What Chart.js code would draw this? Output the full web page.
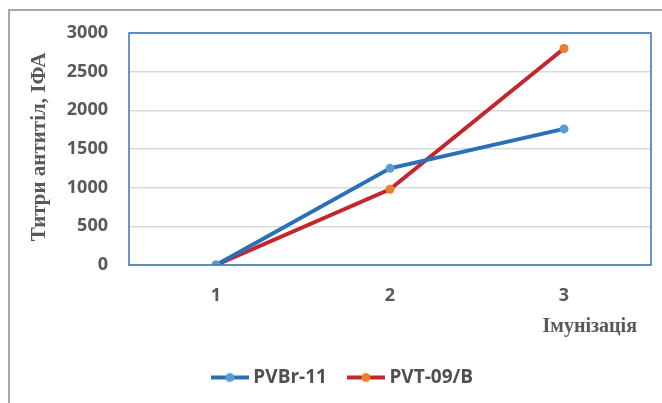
<!DOCTYPE html>
<html>
<head>
<meta charset="utf-8">
<script src="https://cdn.jsdelivr.net/npm/chart.js@4.4.0/dist/chart.umd.min.js"></script>
<style>
  html, body { margin: 0; padding: 0; background: #fff; }
  #wrap { position: relative; width: 662px; height: 403px; }
  #frame { position: absolute; left: 8px; top: 9px; width: 700px; height: 500px;
           border-top: 2px solid #a8a8a8; border-left: 2px solid #a8a8a8; }
  canvas { position: absolute; left: 0; top: 0; }
</style>
</head>
<body>
<div id="wrap">
  <div id="frame"></div>
  <canvas id="chart" width="662" height="403"></canvas>
</div>
<script>
  const categories = ['1', '2', '3'];
  const pvbrValues = [0, 1250, 1760];
  const pvtValues = [0, 980, 2800];
  const seriesNames = ['PVBr-11', 'PVT-09/B'];
  const yTicks = [0, 500, 1000, 1500, 2000, 2500, 3000];
  const yTitle = 'Титри антитіл, ІФА';
  const xTitle = 'Імунізація';

  const blueLine = '#2a70b8', blueDot = '#5b9bd5';
  const redLine = '#c1272d', redDot = '#ed7d31';
  const tickFont = { family: '"Open Sans"', size: 18, weight: 'bold' };

  // little line-with-dot icon for the legend
  function legendIcon(lineColor, dotColor) {
    const c = document.createElement('canvas');
    c.width = 38; c.height = 12;
    const g = c.getContext('2d');
    g.strokeStyle = lineColor; g.lineWidth = 4; g.lineCap = 'butt';
    g.beginPath(); g.moveTo(0, 6); g.lineTo(38, 6); g.stroke();
    g.fillStyle = dotColor;
    g.beginPath(); g.arc(19, 6, 4.5, 0, Math.PI * 2); g.fill();
    return c;
  }

  // legend sits a bit right of the canvas centre in the original
  const legendShift = {
    id: 'legendShift',
    afterLayout(chart) {
      chart.legend.left += 19;
      chart.legend.right += 19;
    }
  };

  const titlesPlugin = {
    id: 'titles',
    afterDraw(chart) {
      const ctx = chart.ctx, a = chart.chartArea;
      ctx.save();
      ctx.strokeStyle = '#3b72b4';
      ctx.lineWidth = 1.5;
      ctx.strokeRect(a.left, a.top, a.right - a.left, a.bottom - a.top);
      ctx.fillStyle = '#595959';
      ctx.font = 'bold 20px "Liberation Serif"';
      ctx.textAlign = 'right';
      ctx.textBaseline = 'middle';
      ctx.fillText(xTitle, 637, 327);
      ctx.font = 'bold 21px "Liberation Serif"';
      ctx.translate(40, 147);
      ctx.rotate(-Math.PI / 2);
      ctx.textAlign = 'center';
      ctx.fillText(yTitle, 0, 0);
      ctx.restore();
    }
  };

  new Chart(document.getElementById('chart'), {
    type: 'line',
    data: {
      labels: categories,
      datasets: [
        { label: seriesNames[0], data: pvbrValues, borderColor: blueLine, backgroundColor: blueDot,
          pointBackgroundColor: blueDot, pointBorderWidth: 0, pointRadius: 4.5, borderWidth: 4,
          icon: legendIcon(blueLine, blueDot) },
        { label: seriesNames[1], data: pvtValues, borderColor: redLine, backgroundColor: redDot,
          pointBackgroundColor: redDot, pointBorderWidth: 0, pointRadius: 4.5, borderWidth: 4,
          icon: legendIcon(redLine, redDot) }
      ]
    },
    options: {
      responsive: false,
      animation: false,
      layout: { padding: { top: 33, right: 11, left: 0, bottom: 6 } },
      plugins: {
        tooltip: { enabled: false },
        legend: {
          position: 'bottom',
          labels: {
            usePointStyle: true,
            pointStyleWidth: 28,
            padding: 25,
            color: '#505050',
            font: { family: '"Open Sans"', size: 19, weight: 'bold' },
            generateLabels(chart) {
              return chart.data.datasets.map((ds, i) => ({
                text: ds.label, pointStyle: ds.icon, fontColor: '#505050',
                hidden: false, datasetIndex: i, lineWidth: 0
              }));
            }
          }
        }
      },
      scales: {
        x: {
          offset: true,
          grid: { display: false },
          border: { display: false },
          ticks: { color: '#595959', padding: 12, font: tickFont },
          afterFit(scale) { scale.height = 78; }
        },
        y: {
          min: 0, max: 3000,
          afterBuildTicks(scale) { scale.ticks = yTicks.map(v => ({ value: v })); },
          grid: { color: '#d9d9d9', lineWidth: 1.5, drawTicks: false },
          border: { display: false },
          ticks: { color: '#595959', padding: 21, font: tickFont, callback: v => String(v) },
          afterFit(scale) { scale.width = 129; }
        }
      }
    },
    plugins: [legendShift, titlesPlugin]
  });
</script>
</body>
</html>
